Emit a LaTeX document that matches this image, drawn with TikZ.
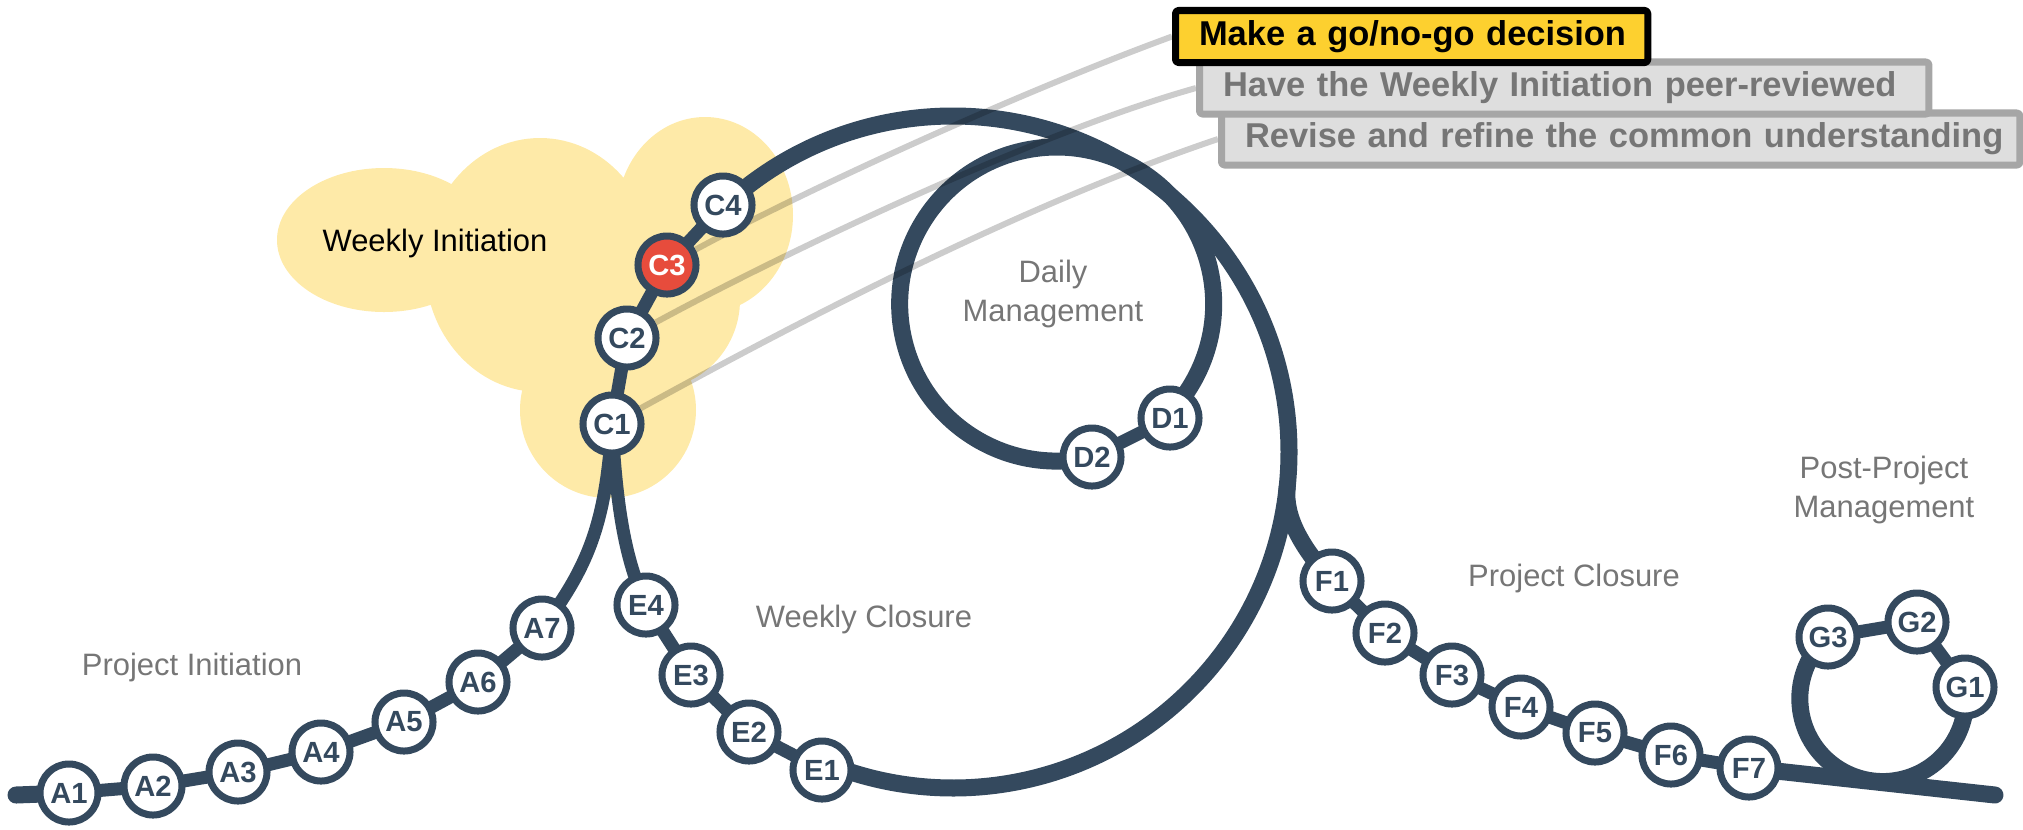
\documentclass[tikz,border=0pt]{standalone}
\usepackage{fontspec}
\setmainfont{Liberation Sans}
\definecolor{rail}{RGB}{52,73,94}
\definecolor{alarm}{RGB}{231,76,60}
\definecolor{decide}{RGB}{253,208,47}
\definecolor{haze}{RGB}{254,234,168}
\definecolor{phasegray}{RGB}{118,118,118}
\definecolor{taskfill}{RGB}{222,222,222}
\definecolor{taskline}{RGB}{166,166,166}
\pgfdeclarelayer{cloudlayer}
\pgfdeclarelayer{tracklayer}
\pgfsetlayers{cloudlayer,tracklayer,main}

\begin{document}
\begin{tikzpicture}[
    x=0.01cm, y=-0.01cm, line join=round,
    station/.style={circle, draw=rail, line width=0.07cm, fill=white,
      minimum size=0.58cm, inner sep=0pt, text=rail,
      font=\bfseries\fontsize{8.3}{10}\selectfont},
    seg/.style={draw=rail, line width=0.13cm},
    loopline/.style={draw=rail, line width=0.17cm, line cap=round},
    phase/.style={text=phasegray, align=center,
      font=\fontsize{8.8}{11.1}\selectfont},
    task/.style={draw=taskline, fill=taskfill, text=phasegray,
      line width=0.07cm, rounded corners=0.03cm, anchor=west,
      minimum height=0.52cm, inner xsep=0.235cm, inner ysep=0pt, align=left,
      font=\bfseries\fontsize{9.8}{11}\selectfont},
    pointer/.style={draw=black, draw opacity=0.2, line width=0.06cm}]
  \useasboundingbox (0,0) rectangle (2023,829);

  % Stations
  \node[station] (A1) at (69,793) {A1};
  \node[station] (A2) at (153,786) {A2};
  \node[station] (A3) at (238,772) {A3};
  \node[station] (A4) at (321,752) {A4};
  \node[station] (A5) at (404,722) {A5};
  \node[station] (A6) at (478,682) {A6};
  \node[station] (A7) at (542,628) {A7};
  \node[station] (C1) at (612,424) {C1};
  \node[station] (C2) at (627,338) {C2};
  \node[station, fill=alarm, text=white] (C3) at (667,265) {C3};
  \node[station] (C4) at (723,205) {C4};
  \node[station] (D1) at (1170,418) {D1};
  \node[station] (D2) at (1092,457) {D2};
  \node[station] (E4) at (646,605) {E4};
  \node[station] (E3) at (691,675) {E3};
  \node[station] (E2) at (749,732) {E2};
  \node[station] (E1) at (822,770) {E1};
  \node[station] (F1) at (1332,581) {F1};
  \node[station] (F2) at (1385,633) {F2};
  \node[station] (F3) at (1452,675) {F3};
  \node[station] (F4) at (1521,707) {F4};
  \node[station] (F5) at (1595,733) {F5};
  \node[station] (F6) at (1671,755) {F6};
  \node[station] (F7) at (1749,768) {F7};
  \node[station] (G1) at (1965,687) {G1};
  \node[station] (G2) at (1917,622) {G2};
  \node[station] (G3) at (1828,637) {G3};

  % Phases
  \node[phase, anchor=base] (proinit) at (192,675) {Project Initiation};
  \node[anchor=base, font=\fontsize{8.8}{11.1}\selectfont] (wkinit) at (435,251) {Weekly Initiation};
  \node[phase, anchor=base] (wkclose) at (864,627) {Weekly Closure};
  \node[phase] (daily) at (1053,294) {Daily\\Management};
  \node[phase, anchor=base] (proclose) at (1574,586) {Project Closure};
  \node[phase] (post) at (1884,490) {Post-Project\\Management};

  % Tasks of C
  \node[task, text width=7.51cm] (revise) at (1218,139) {\mbox{Revise and refine the common understanding}};
  \node[task, text width=6.82cm] (review) at (1196,88) {\mbox{Have the Weekly Initiation peer-reviewed}};
  \node[task, draw=black, fill=decide, text=black, text width=4.25cm] (gonogo) at (1172,36.5) {\mbox{Make a go/no-go decision}};

  % Cloud
  \begin{pgfonlayer}{cloudlayer}
    \fill[haze] (384,240) ellipse[x radius=107, y radius=72]
      (540,265) ellipse[x radius=115, y radius=127]
      (705,215) ellipse[x radius=88, y radius=98]
      (650,300) circle[radius=90]
      (608,410) circle[radius=88];
  \end{pgfonlayer}

  % Track
  \begin{pgfonlayer}{tracklayer}
    \coordinate (tstart) at (16,795);
    \coordinate (tend) at (1995,795);
    \coordinate (wk) at (953,452);
    \path (wk) ++(6:336) coordinate (fk);
    \draw[loopline] (tstart) -- (A1.center);
    \draw[seg] (A1.center) -- (A2.center) -- (A3.center) -- (A4.center)
      -- (A5.center) -- (A6.center) -- (A7.center);
    \draw[seg] (A7.center) .. controls (590,565) and (606,520) .. (C1.center);
    \draw[seg] (C1.center) .. controls (617,520) and (628,565) .. (E4.center);
    \draw[seg] (E4.center) -- (E3.center) -- (E2.center) -- (E1.center);
    \draw[seg] (C1.center) -- (C2.center) -- (C3.center) -- (C4.center);
    \draw[loopline] (wk) ++(-133:336) arc[start angle=-133, end angle=112.4, radius=336];
    \draw[loopline] (D2.center) arc[start angle=77, end angle=404.5, radius=157];
    \draw[seg] (D1.center) -- (D2.center);
    \draw[loopline] (fk) .. controls (1284,517) and (1302,548) .. (F1.center);
    \draw[seg] (F1.center) -- (F2.center) -- (F3.center) -- (F4.center)
      -- (F5.center) -- (F6.center) -- (F7.center);
    \draw[loopline] (F7.center) -- (tend);
    \draw[loopline] (G1.center) arc[start angle=-8, end angle=229, radius=83];
    \draw[seg] (G1.center) -- (G2.center) -- (G3.center);
    % Pointers to the tasks
    \draw[pointer] (C3) .. controls (817,184) and (1031,88) .. (gonogo.west);
    \draw[pointer] (C2) .. controls (776,257) and (1032,134) .. (review.west);
    \draw[pointer] (C1) .. controls (812,314) and (1028,203) .. (revise.west);
  \end{pgfonlayer}
\end{tikzpicture}
\end{document}
